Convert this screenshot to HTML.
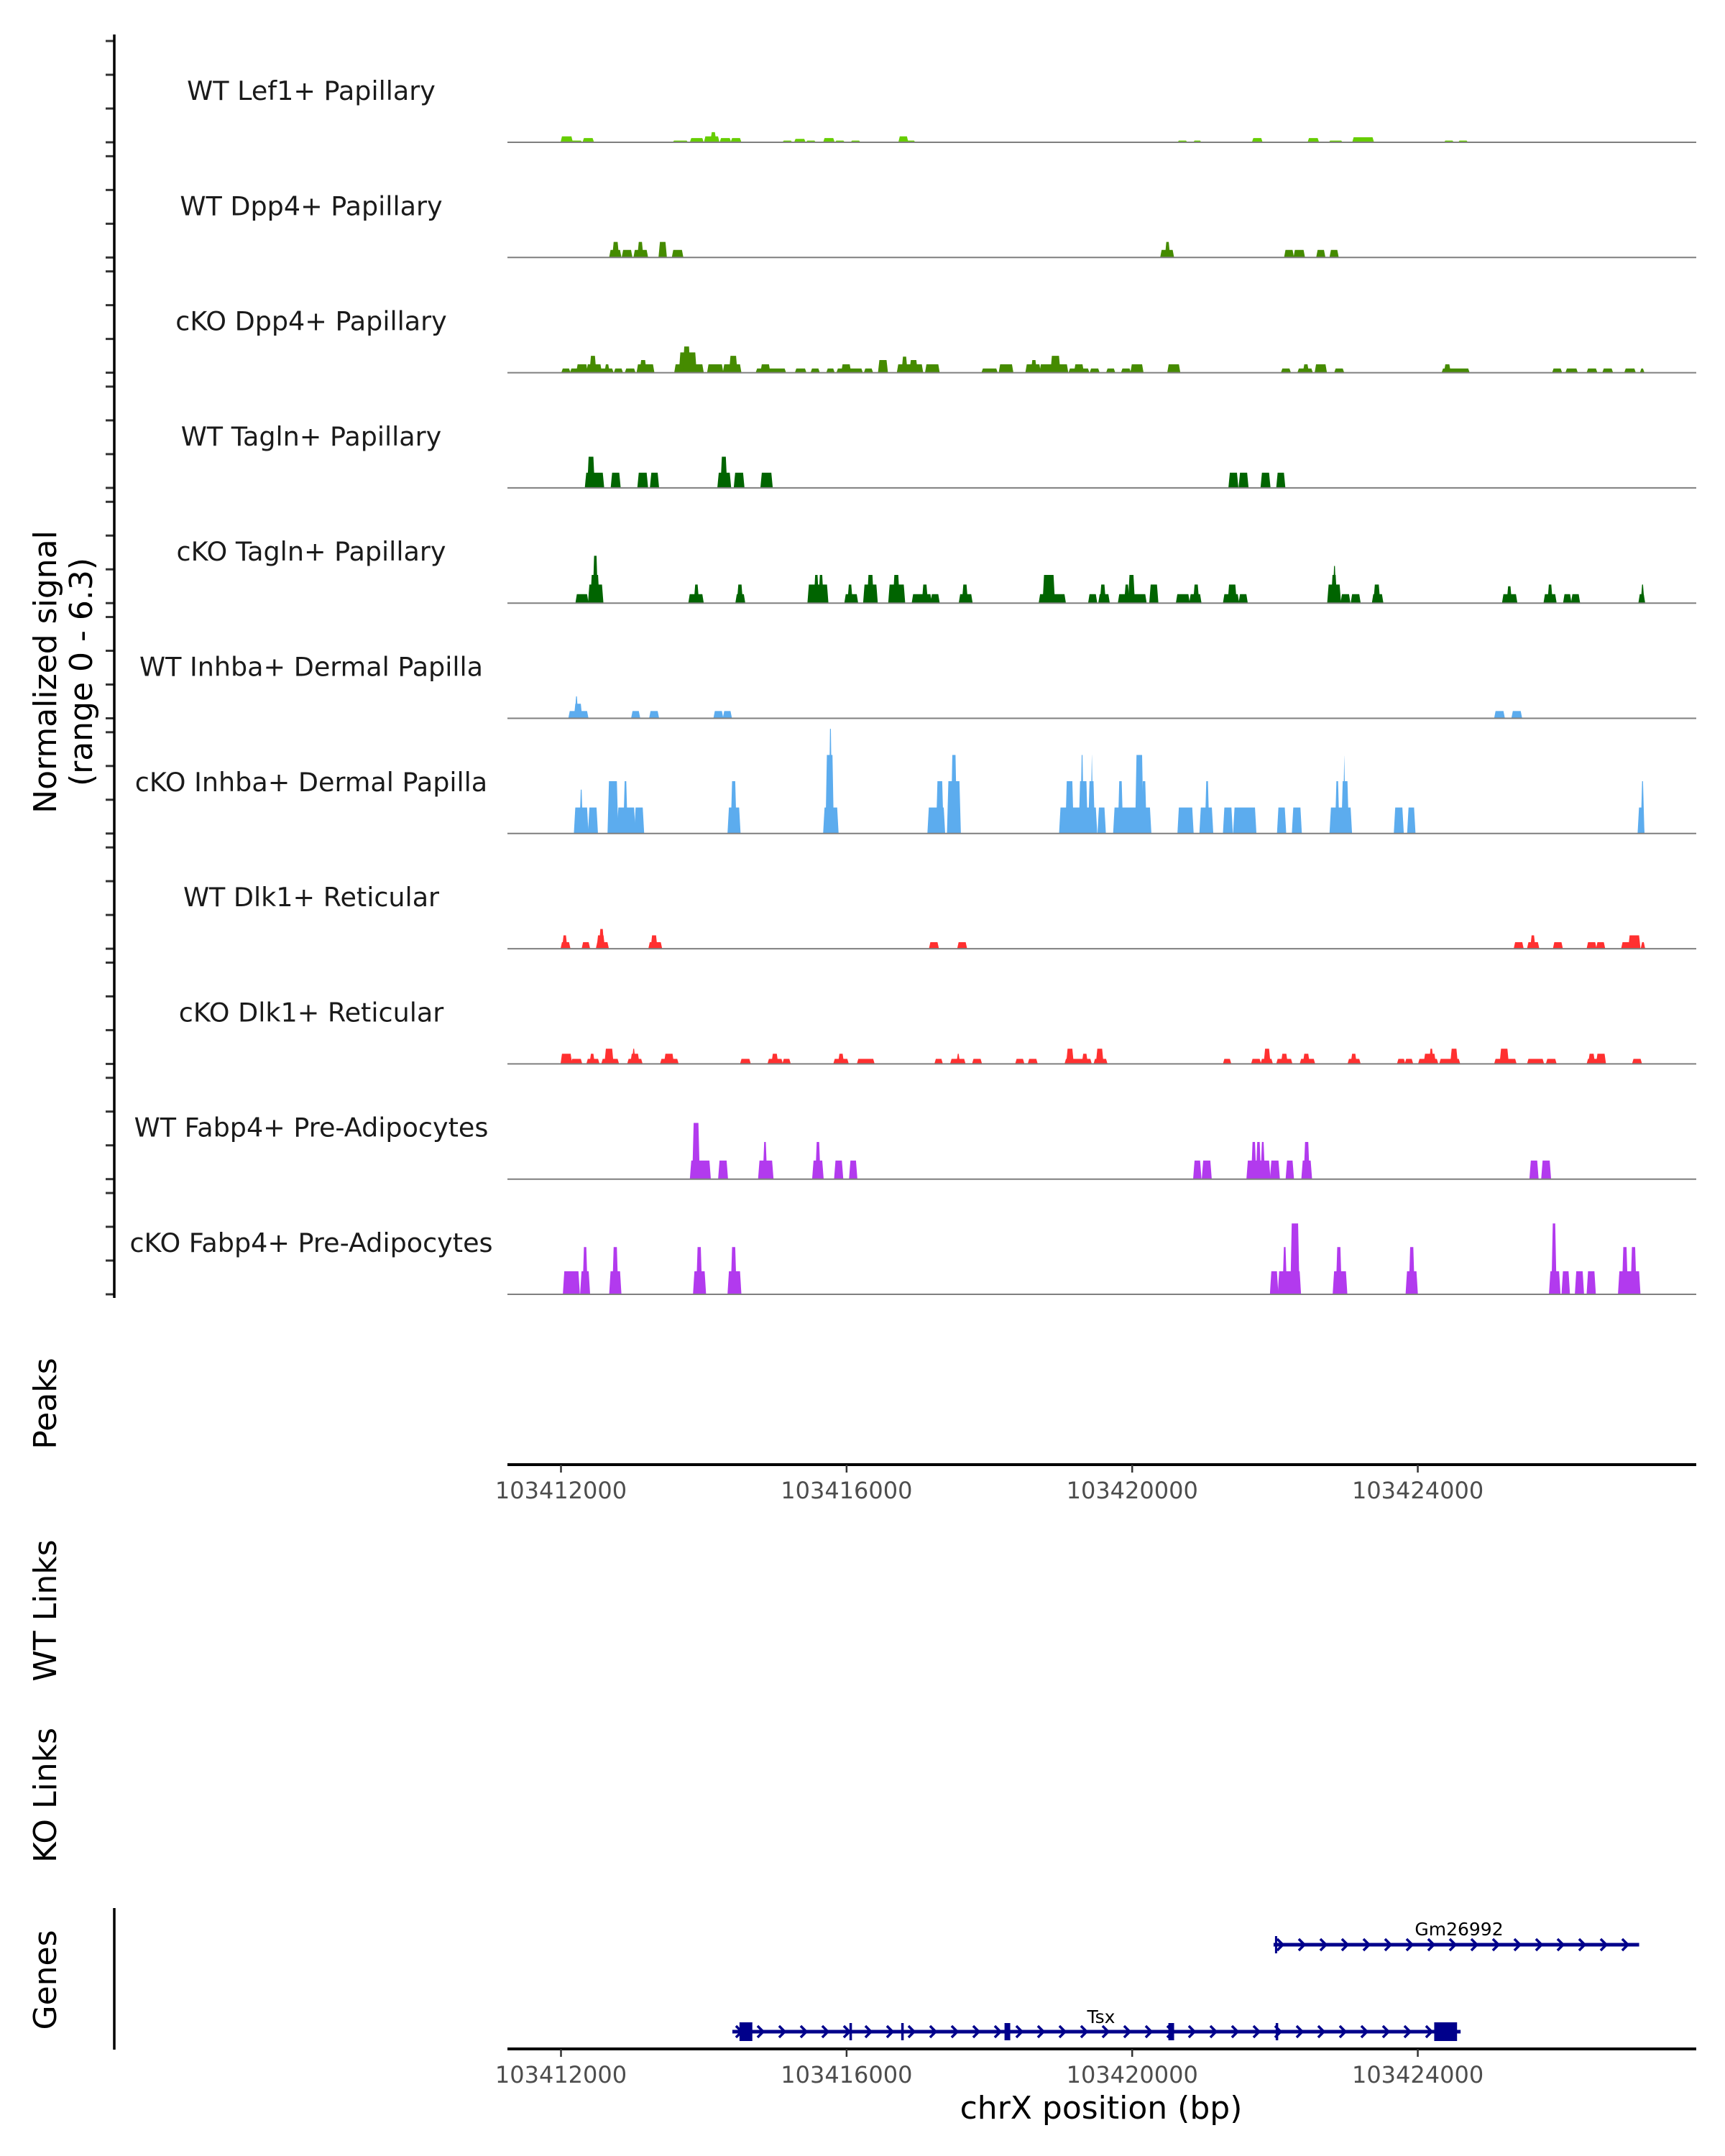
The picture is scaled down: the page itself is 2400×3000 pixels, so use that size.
<!DOCTYPE html>
<html>
<head>
<meta charset="utf-8">
<style>
  html,body{margin:0;padding:0;background:#fff;}
  svg{display:block;font-family:"DejaVu Sans","Liberation Sans",sans-serif;}
</style>
</head>
<body>
<svg id="chart" width="2400" height="3000" viewBox="0 0 2400 3000" xmlns="http://www.w3.org/2000/svg">
  <rect x="0" y="0" width="2400" height="3000" fill="#fff"/>
  <g id="tracks"></g>
  <g id="yaxis"></g>
  <g id="xaxis-top"></g>
  <g id="genes"></g>
  <g font-size="44" fill="#000">
    <text transform="translate(78,935) rotate(-90)" text-anchor="middle">Normalized signal</text>
    <text transform="translate(128,935) rotate(-90)" text-anchor="middle">(range 0 - 6.3)</text>
  </g>
  <text transform="translate(78,1953) rotate(-90)" text-anchor="middle" font-size="44">Peaks</text>
  <text transform="translate(78,2241) rotate(-90)" text-anchor="middle" font-size="44">WT Links</text>
  <text transform="translate(78,2498) rotate(-90)" text-anchor="middle" font-size="44">KO Links</text>
  <text transform="translate(78,2755) rotate(-90)" text-anchor="middle" font-size="44">Genes</text>
  <text x="1532" y="2948" text-anchor="middle" font-size="44">chrX position (bp)</text>
</svg>
<script>
// ---------- data ----------
// genomic window (bp); segment positions are offsets from regionStart in units of offsetUnit bp
const regionStart = 103411185;
const offsetUnit = 0.982;
const domainStart = 103411250;
const domainEnd = 103427900;
const xTicks = [103412000, 103416000, 103420000, 103424000];
const yTicks = [0, 2, 4, 6];
const yMax = 6.3;

const trackNames = ["WT Lef1+ Papillary","WT Dpp4+ Papillary","cKO Dpp4+ Papillary","WT Tagln+ Papillary","cKO Tagln+ Papillary","WT Inhba+ Dermal Papilla","cKO Inhba+ Dermal Papilla","WT Dlk1+ Reticular","cKO Dlk1+ Reticular","WT Fabp4+ Pre-Adipocytes","cKO Fabp4+ Pre-Adipocytes"];
const trackColors = ["#66cd00","#458b00","#458b00","#006400","#006400","#5cacee","#5cacee","#ff3030","#ff3030","#b23aee","#b23aee"];

// [startOffset, endOffset, value]
const wtLef1 = [[839,984,0.35],[984,1118,0.1],[1152,1286,0.25],[2437,2627,0.1],[2683,2851,0.25],[2884,3075,0.35],[2975,3030,0.6],[3108,3242,0.25],[3265,3388,0.25],[4002,4114,0.1],[4170,4304,0.2],[4338,4450,0.1],[4584,4718,0.25],[4752,4863,0.1],[4975,5087,0.1],[5657,5769,0.35],[5769,5870,0.1],[9637,9749,0.1],[9861,9950,0.1],[10699,10822,0.25],[11493,11627,0.25],[11795,11963,0.1],[12130,12410,0.3],[13438,13550,0.1],[13640,13751,0.1]];
const wtDpp4 = [[1532,1677,0.45],[1576,1643,0.92],[1711,1834,0.45],[1878,2057,0.45],[1934,1990,0.92],[2236,2325,0.92],[2426,2560,0.45],[9391,9559,0.45],[9458,9503,0.92],[11158,11269,0.45],[11292,11426,0.45],[11616,11717,0.45],[11806,11907,0.45]];
const koDpp4 = [[850,950,0.25],[973,1230,0.25],[1062,1196,0.5],[1207,1398,0.5],[1252,1319,1.0],[1398,1565,0.25],[1465,1509,0.5],[1599,1699,0.25],[1755,1878,0.25],[1923,2147,0.5],[1968,2035,0.75],[2460,2851,0.5],[2527,2750,1.2],[2583,2661,1.55],[2929,3130,0.5],[3153,3388,0.5],[3242,3332,1.0],[3622,4025,0.25],[3689,3801,0.5],[4181,4315,0.25],[4405,4506,0.25],[4629,4718,0.25],[4774,5120,0.25],[4841,4953,0.5],[5165,5266,0.25],[5366,5478,0.75],[5635,5981,0.5],[5702,5758,0.95],[5814,5903,0.75],[6037,6216,0.5],[6842,7043,0.25],[7088,7267,0.5],[7468,7658,0.5],[7547,7602,0.75],[7669,8050,0.5],[7826,7938,1.0],[8083,8351,0.25],[8161,8273,0.5],[8385,8497,0.25],[8620,8720,0.25],[8832,8944,0.25],[8966,9123,0.5],[9492,9648,0.5],[11113,11225,0.25],[11348,11538,0.25],[11426,11482,0.5],[11594,11739,0.5],[11873,11985,0.25],[13405,13774,0.25],[13438,13505,0.5],[14981,15093,0.25],[15171,15317,0.25],[15473,15596,0.25],[15697,15820,0.25],[16010,16144,0.25],[16233,16267,0.25]];
const wtTagln = [[1185,1431,0.9],[1219,1297,1.85],[1554,1666,0.9],[1934,2057,0.9],[2113,2214,0.9],[3075,3242,0.9],[3119,3186,1.85],[3309,3432,0.9],[3689,3835,0.9],[10364,10476,0.9],[10509,10621,0.9],[10822,10934,0.9],[11046,11146,0.9]];
const koTagln = [[1051,1207,0.53],[1230,1420,1.1],[1263,1364,1.67],[1297,1342,2.8],[2661,2851,0.53],[2739,2784,1.1],[3332,3443,0.53],[3354,3410,1.1],[4360,4629,1.1],[4450,4494,1.67],[4517,4561,1.67],[4886,5053,0.53],[4930,4975,1.1],[5154,5333,1.1],[5210,5277,1.67],[5512,5724,1.1],[5579,5646,1.67],[5847,6104,0.53],[5992,6048,1.1],[6115,6216,0.53],[6518,6686,0.53],[6563,6619,1.1],[7658,8016,0.53],[7714,7860,1.67],[8363,8463,0.53],[8508,8642,0.53],[8530,8586,1.1],[8787,9168,0.53],[8877,8922,1.1],[8933,9000,1.67],[9235,9335,1.1],[9615,9783,0.53],[9805,9950,0.53],[9861,9917,1.1],[10286,10487,0.53],[10353,10453,1.1],[10509,10610,0.53],[11773,11940,1.1],[11828,11884,1.67],[11851,11873,2.2],[11963,12074,0.53],[12108,12220,0.53],[12410,12544,0.53],[12432,12499,1.1],[14266,14455,0.53],[14333,14377,1.0],[14858,15015,0.53],[14914,14959,1.1],[15137,15227,0.53],[15250,15350,0.53],[16211,16278,0.53],[16244,16267,1.1]];
const wtInhba = [[950,1207,0.43],[1029,1118,0.86],[1040,1062,1.3],[1845,1945,0.43],[2102,2214,0.43],[3019,3130,0.43],[3153,3253,0.43],[14154,14277,0.43],[14400,14523,0.43]];
const koInhba = [[1029,1207,1.54],[1107,1129,2.6],[1230,1342,1.54],[1509,1632,3.1],[1643,1878,1.54],[1733,1766,3.1],[1889,2001,1.54],[3220,3376,1.54],[3265,3320,3.1],[4584,4774,1.54],[4617,4707,4.65],[4662,4684,6.2],[6071,6294,1.54],[6194,6272,3.1],[6350,6518,3.1],[6406,6462,4.65],[7949,8463,1.54],[8038,8128,3.1],[8228,8329,3.1],[8251,8273,4.65],[8363,8430,3.1],[8396,8407,4.65],[8497,8586,1.54],[8720,9235,1.54],[8787,8832,3.1],[9033,9123,4.65],[9123,9168,3.1],[9637,9838,1.54],[9950,10118,1.54],[10028,10062,3.1],[10286,10397,1.54],[10431,10733,1.54],[11057,11158,1.54],[11269,11381,1.54],[11806,12097,1.54],[11884,11918,3.1],[11974,12052,3.1],[11996,12007,4.6],[12723,12835,1.54],[12913,13002,1.54],[16200,16267,1.54],[16244,16267,3.1]];
const wtDlk1 = [[839,950,0.39],[861,906,0.79],[1140,1230,0.39],[1342,1498,0.39],[1353,1442,0.79],[1386,1431,1.17],[2091,2258,0.39],[2124,2191,0.79],[6093,6205,0.39],[6496,6607,0.39],[14433,14545,0.39],[14623,14768,0.39],[14668,14713,0.79],[14992,15104,0.39],[15473,15585,0.39],[15607,15708,0.39],[15965,16066,0.39],[16066,16211,0.79],[16244,16278,0.39]];
const koDlk1 = [[839,973,0.6],[984,1118,0.3],[1207,1364,0.3],[1252,1297,0.6],[1420,1643,0.3],[1465,1565,0.9],[1789,1979,0.3],[1834,1934,0.6],[1856,1878,0.9],[2258,2493,0.3],[2314,2426,0.6],[3399,3522,0.3],[3790,3980,0.3],[3846,3913,0.6],[4002,4092,0.3],[4729,4919,0.3],[4796,4852,0.6],[5065,5288,0.3],[6171,6261,0.3],[6395,6585,0.3],[6484,6507,0.6],[6708,6820,0.3],[7323,7424,0.3],[7502,7614,0.3],[8027,8385,0.3],[8050,8128,0.9],[8273,8329,0.6],[8441,8609,0.3],[8474,8553,0.9],[10286,10375,0.3],[10688,10800,0.3],[10822,10968,0.3],[10867,10934,0.9],[11046,11247,0.3],[11113,11180,0.6],[11381,11571,0.3],[11426,11493,0.6],[12063,12220,0.3],[12108,12164,0.6],[12768,12857,0.3],[12879,12969,0.3],[13069,13327,0.3],[13148,13293,0.6],[13226,13259,0.9],[13371,13640,0.3],[13528,13606,0.9],[14154,14444,0.3],[14232,14333,0.9],[14623,14836,0.3],[14892,15015,0.3],[15473,15719,0.3],[15495,15563,0.6],[15607,15719,0.6],[16121,16233,0.3]];
const wtFabp4 = [[2683,2952,1.1],[2717,2795,3.33],[3086,3197,1.1],[3656,3846,1.1],[3723,3756,2.2],[4427,4561,1.1],[4472,4517,2.2],[4740,4841,1.1],[4953,5042,1.1],[9861,9950,1.1],[9984,10096,1.1],[10621,10934,1.1],[10688,10733,2.2],[10755,10800,2.2],[10822,10856,2.2],[10956,11068,1.1],[11180,11269,1.1],[11404,11527,1.1],[11437,11493,2.2],[14657,14758,1.1],[14825,14936,1.1]];
const koFabp4 = [[872,1084,1.37],[1118,1230,1.37],[1152,1196,2.8],[1532,1677,1.37],[1576,1632,2.8],[2728,2884,1.37],[2773,2829,2.8],[3220,3388,1.37],[3265,3320,2.8],[10956,11046,1.37],[11068,11370,1.37],[11135,11169,2.8],[11247,11348,4.2],[11851,12030,1.37],[11896,11951,2.8],[12891,13036,1.37],[12936,12991,2.8],[14936,15070,1.37],[14970,15015,4.2],[15115,15205,1.37],[15305,15406,1.37],[15473,15574,1.37],[15920,16211,1.37],[15976,16032,2.8],[16099,16155,2.8]];
const trackData = [wtLef1, wtDpp4, koDpp4, wtTagln, koTagln, wtInhba, koInhba, wtDlk1, koDlk1, wtFabp4, koFabp4];

// genes (absolute bp)
const geneNames = ["Tsx", "Gm26992"];
const geneStarts = [103414400, 103421980];
const geneEnds = [103424600, 103427100];
const tsxExonStarts = [103414500, 103416040, 103416765, 103418212, 103420507, 103422010, 103424230];
const tsxExonEnds = [103414680, 103416075, 103416800, 103418292, 103420587, 103422045, 103424550];
const gmExonStarts = [103422000];
const gmExonEnds = [103422030];

// ---------- layout ----------
const NS = "http://www.w3.org/2000/svg";
const plotLeft = 706, plotRight = 2360;
const trackTop0 = 198, trackStep = 160.3, trackHeight = 148;
function xScale(bp){ return plotLeft + (bp - domainStart) / (domainEnd - domainStart) * (plotRight - plotLeft); }
function posBp(off){ return regionStart + off * offsetUnit; }
function baseY(i){ return trackTop0 + i * trackStep; }
function yScale(i, v){ return baseY(i) - v / yMax * trackHeight; }
function mk(tag, attrs, parent){
  const e = document.createElementNS(NS, tag);
  for (const k in attrs) e.setAttribute(k, attrs[k]);
  parent.appendChild(e);
  return e;
}

const gTracks = document.getElementById("tracks");
const gY = document.getElementById("yaxis");
trackData.forEach((segs, i) => {
  const g = mk("g", {}, gTracks);
  
  
  const lab = mk("text", {x: 433, y: baseY(i) - 59, "text-anchor": "middle", "font-size": 36.5, fill: "#1a1a1a"}, g);
  lab.textContent = trackNames[i];
  
  
  segs.forEach(s => {
    const x0 = xScale(posBp(s[0])), x1 = xScale(posBp(s[1]));
    const yb = baseY(i), yt = yScale(i, s[2]);
    const p = mk("polygon", {points: `${x0-1.5},${yb} ${x0+0.5},${yt} ${x1-0.5},${yt} ${x1+1.5},${yb}`, fill: trackColors[i]}, g);
    
    
  });
  const bl = mk("line", {x1: plotLeft, x2: plotRight, y1: baseY(i), y2: baseY(i), stroke: "#7f7f7f", "stroke-width": 2}, g);
  
  
  yTicks.forEach(t => {
    const tk = mk("line", {x1: 147, x2: 159, y1: yScale(i, t), y2: yScale(i, t), stroke: "#333", "stroke-width": 3}, gY);
    
    
  });
});
const yl = mk("line", {x1: 159, x2: 159, y1: 48, y2: 1806, stroke: "#000", "stroke-width": 3.5}, gY);



function xAxis(parent, y){
  const al = mk("line", {x1: plotLeft, x2: plotRight, y1: y, y2: y, stroke: "#000", "stroke-width": 4}, parent);
  
  
  xTicks.forEach(t => {
    const tk = mk("line", {x1: xScale(t), x2: xScale(t), y1: y, y2: y + 11, stroke: "#333", "stroke-width": 2.5}, parent);
    
    
    const tl = mk("text", {x: xScale(t), y: y + 47, "text-anchor": "middle", "font-size": 32, fill: "#4d4d4d"}, parent);
    tl.textContent = String(t);
    
    
  });
}
xAxis(document.getElementById("xaxis-top"), 2038);

const gG = document.getElementById("genes");
const gl = mk("line", {x1: 159, x2: 159, y1: 2655, y2: 2852, stroke: "#000", "stroke-width": 3.5}, gG);


xAxis(gG, 2851);

const geneY = [2827, 2706];
const exonStartsAll = [tsxExonStarts, gmExonStarts];
const exonEndsAll = [tsxExonEnds, gmExonEnds];
geneNames.forEach((name, gi) => {
  const g = mk("g", {}, gG);
  
  
  const xs = xScale(geneStarts[gi]), xe = xScale(geneEnds[gi]), y = geneY[gi];
  const ln = mk("line", {x1: xs, x2: xe, y1: y, y2: y, stroke: "#00008b", "stroke-width": 5}, g);
  
  
  for (let cx = xs + 10; cx <= xe + 1; cx += 30) {
    const ch = mk("polyline", {points: `${cx-5},${y-8} ${cx+3},${y} ${cx-5},${y+8}`, fill: "none", stroke: "#00008b", "stroke-width": 3.5}, g);
    
    
  }
  exonStartsAll[gi].forEach((s, k) => {
    const x0 = xScale(s), x1 = xScale(exonEndsAll[gi][k]);
    const w = Math.max(x1 - x0, 3);
    const h = w > 12 ? 26 : 24;
    const ex = mk("rect", {x: x0, y: y - h / 2, width: w, height: h, fill: "#00008b"}, g);
    
    
  });
  const lab = mk("text", {x: gi === 0 ? 1532 : 2030, y: gi === 0 ? 2815 : 2693, "text-anchor": "middle", "font-size": 25, fill: "#000"}, g);
  lab.textContent = name;
  
  
});
</script>
</body>
</html>
